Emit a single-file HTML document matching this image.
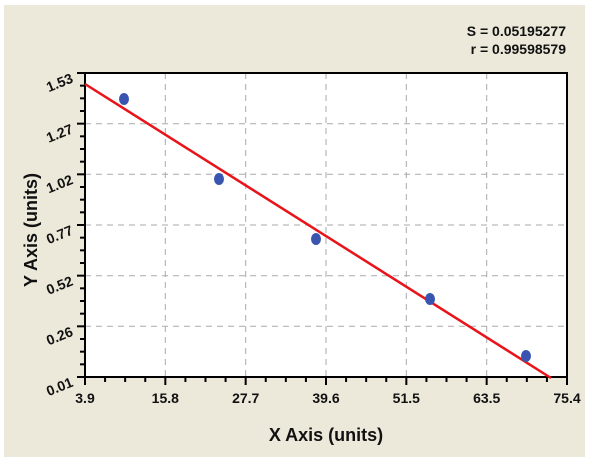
<!DOCTYPE html>
<html><head><style>
body{margin:0;background:#fff;}
svg{display:block;font-family:"Liberation Sans",Arial,sans-serif;font-weight:bold;}
</style></head><body>
<svg width="600" height="465" viewBox="0 0 600 465">
<rect x="4" y="5" width="581" height="452" fill="#ece9da"/>
<rect x="85" y="73" width="482" height="304" fill="#fff"/>
<g stroke="#aaa" stroke-width="1" stroke-dasharray="6,5">
<line x1="165.3" y1="73" x2="165.3" y2="377"/>
<line x1="245.7" y1="73" x2="245.7" y2="377"/>
<line x1="326" y1="73" x2="326" y2="377"/>
<line x1="406.3" y1="73" x2="406.3" y2="377"/>
<line x1="486.7" y1="73" x2="486.7" y2="377"/>
<line x1="85" y1="123.7" x2="567" y2="123.7"/>
<line x1="85" y1="174.3" x2="567" y2="174.3"/>
<line x1="85" y1="225" x2="567" y2="225"/>
<line x1="85" y1="275.7" x2="567" y2="275.7"/>
<line x1="85" y1="326.3" x2="567" y2="326.3"/>
</g>
<rect x="85" y="73" width="482" height="304" fill="none" stroke="#000" stroke-width="2"/>
<g stroke="#000" stroke-width="2" id="ticks"></g>
<line x1="85" y1="84" x2="551" y2="378" stroke="#e8141a" stroke-width="2.5"/>
<g fill="#3a55b0">
<ellipse cx="124" cy="99" rx="5" ry="6"/>
<ellipse cx="219" cy="179" rx="5" ry="6"/>
<ellipse cx="316" cy="239" rx="5" ry="6"/>
<ellipse cx="430" cy="299" rx="5" ry="6"/>
<ellipse cx="526" cy="356" rx="5" ry="6"/>
</g>
<g font-size="14" text-anchor="middle" fill="#111">
<text x="85" y="403">3.9</text>
<text x="165.3" y="403">15.8</text>
<text x="245.7" y="403">27.7</text>
<text x="326" y="403">39.6</text>
<text x="406.3" y="403">51.5</text>
<text x="486.7" y="403">63.5</text>
<text x="567" y="403">75.4</text>
</g>
<g font-size="14" text-anchor="end" fill="#111">
<text transform="translate(74,82) rotate(-22)">1.53</text>
<text transform="translate(74,132.7) rotate(-22)">1.27</text>
<text transform="translate(74,183.3) rotate(-22)">1.02</text>
<text transform="translate(74,234) rotate(-22)">0.77</text>
<text transform="translate(74,284.7) rotate(-22)">0.52</text>
<text transform="translate(74,335.3) rotate(-22)">0.26</text>
<text transform="translate(74,386) rotate(-22)">0.01</text>
</g>
<text x="326" y="441" font-size="18" text-anchor="middle" fill="#111">X Axis (units)</text>
<text transform="translate(37,230) rotate(-90)" font-size="18" text-anchor="middle" fill="#111">Y Axis (units)</text>
<text x="566" y="36" font-size="14" text-anchor="end" fill="#111">S = 0.05195277</text>
<text x="566" y="54" font-size="14" text-anchor="end" fill="#111">r = 0.99598579</text>
</svg>
<script>
var g=document.getElementById('ticks'),s='';
for(var i=0;i<=24;i++){var x=85+i*482/24;var L=(i%4==0)?8:5;s+='<line x1="'+x+'" y1="377" x2="'+x+'" y2="'+(377+L)+'"/>';}
for(var j=0;j<=24;j++){var y=73+j*304/24;var L=(j%4==0)?8:5;s+='<line x1="'+(85-L)+'" y1="'+y+'" x2="85" y2="'+y+'"/>';}
g.innerHTML=s;
</script>
</body></html>
